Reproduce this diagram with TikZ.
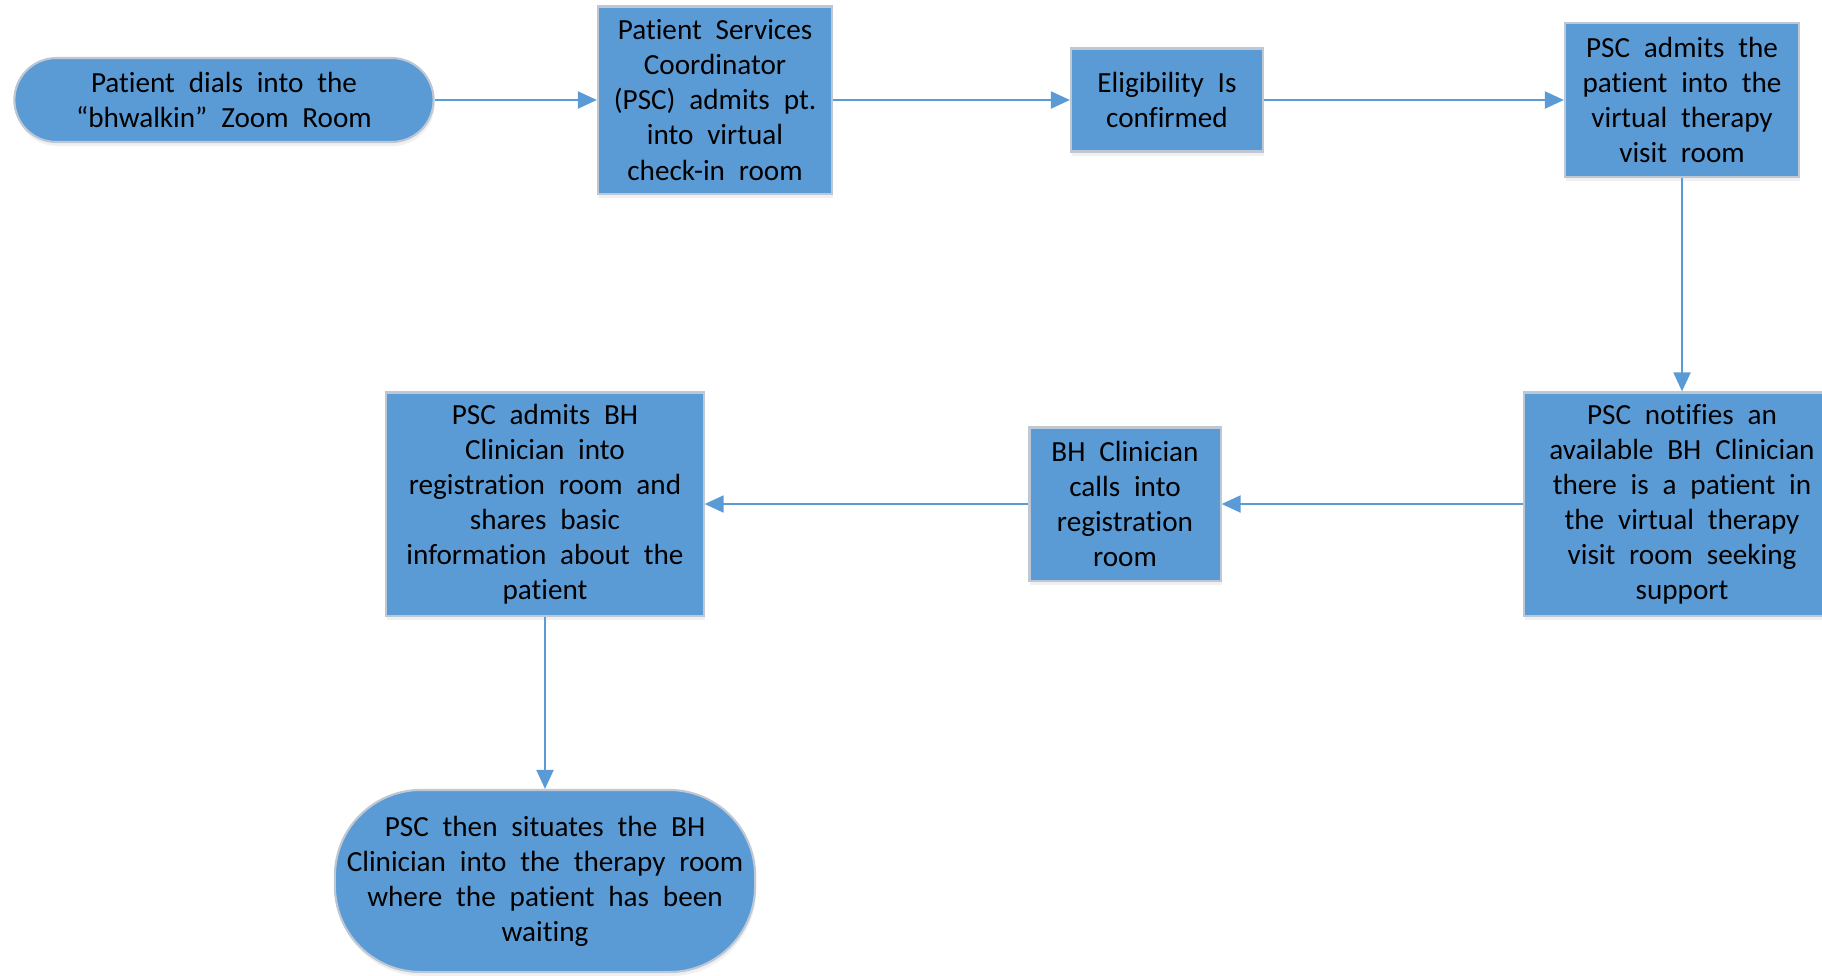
\documentclass[tikz,border=0pt]{standalone}
\usepackage{fontspec}
\setmainfont{Carlito}[Ligatures=CommonOff, WordSpace=2.1]
\usepackage{tikz}
\usetikzlibrary{arrows.meta,shadows}
\definecolor{boxblue}{RGB}{91,155,213}
\definecolor{boxline}{RGB}{190,200,212}

\begin{document}
\begin{tikzpicture}[x = 0.01cm, y = -0.01cm]
\path [use as bounding box] (0,0) rectangle (1822,975);
\tikzstyle{block} = [rectangle, fill=boxblue, draw=boxline, line width=0.6pt, align=center, inner sep=0pt,
	font=\fontsize{8.3}{9.96}\selectfont, drop shadow={shadow xshift=0.01cm, shadow yshift=-0.04cm, opacity=0.12}]
\tikzstyle{terminal} = [block, rounded corners=0.42cm]
\tikzstyle{flow} = [-{Triangle[length=0.19cm, width=0.17cm]}, boxblue, line width=0.6pt]
\coordinate (dial) at (224,100);
\coordinate (check) at (715,100);
\coordinate (elig) at (1167,100);
\coordinate (visit) at (1682,100);
\coordinate (notify) at (1682,504);
\coordinate (calls) at (1125,504);
\coordinate (share) at (545,504);
\coordinate (situate) at (545,881);
\node[terminal, minimum width=4.19cm, minimum height=0.84cm] (Dial) at (dial) {Patient dials into the\\“bhwalkin” Zoom Room};
\node[block, minimum width=2.34cm, minimum height=1.87cm] (Check) at (check) {Patient Services\\Coordinator\\(PSC) admits pt.\\into virtual\\check-in room};
\node[block, minimum width=1.92cm, minimum height=1.03cm] (Elig) at (elig) {Eligibility Is\\confirmed};
\node[block, minimum width=2.34cm, minimum height=1.54cm] (Visit) at (visit) {PSC admits the\\patient into the\\virtual therapy\\visit room};
\node[block, minimum width=3.16cm, minimum height=2.23cm] (Notify) at (notify) {PSC notifies an\\available BH Clinician\\there is a patient in\\the virtual therapy\\visit room seeking\\support};
\node[block, minimum width=1.91cm, minimum height=1.53cm] (Calls) at (calls) {BH Clinician\\calls into\\registration\\room};
\node[block, minimum width=3.17cm, minimum height=2.23cm] (Share) at (share) {PSC admits BH\\Clinician into\\registration room and\\shares basic\\information about the\\patient};
\node[block, rounded corners=0.86cm, minimum width=4.20cm, minimum height=1.82cm] (Situate) at (situate) {PSC then situates the BH\\Clinician into the therapy room\\where the patient has been\\waiting};
	\draw[flow] (Dial) -- (Check);
	\draw[flow] (Check) -- (Elig);
	\draw[flow] (Elig) -- (Visit);
	\draw[flow] (Visit) -- (Notify);
	\draw[flow] (Notify) -- (Calls);
	\draw[flow] (Calls) -- (Share);
	\draw[flow] (Share) -- (Situate);
\end{tikzpicture}
\end{document}
